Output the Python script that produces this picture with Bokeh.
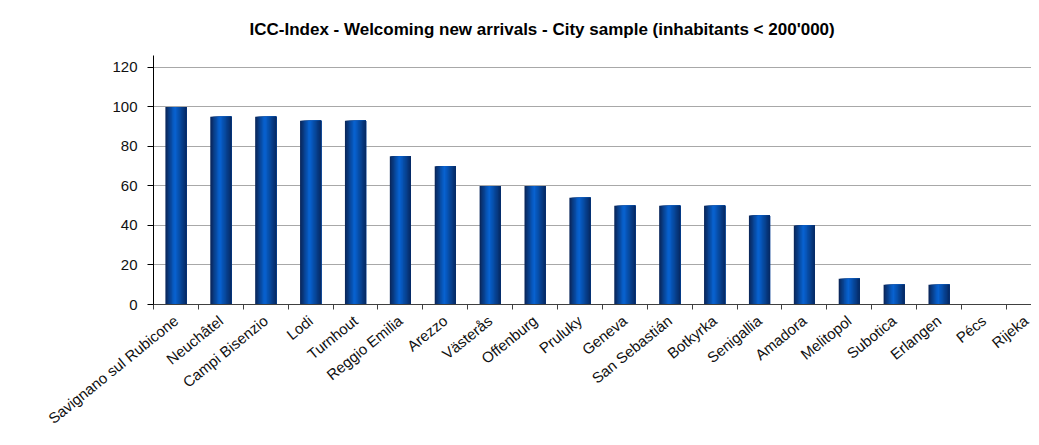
import math
from bokeh.plotting import figure
from bokeh.models import Range1d, FixedTicker, CustomJSTickFormatter
from bokeh.embed import file_html
from bokeh.resources import INLINE

# ---- data ----
cities = ["Savignano sul Rubicone", "Neuchâtel", "Campi Bisenzio", "Lodi", "Turnhout",
          "Reggio Emilia", "Arezzo", "Västerås", "Offenburg", "Pruluky", "Geneva",
          "San Sebastián", "Botkyrka", "Senigallia", "Amadora", "Melitopol", "Subotica",
          "Erlangen", "Pécs", "Rijeka"]
scores = [100, 95, 95, 93, 93, 75, 70, 60, 60, 54, 50, 50, 50, 45, 40, 13, 10, 10, 0, 0]
y_ticks = [0, 20, 40, 60, 80, 100, 120]
title_text = "ICC-Index - Welcoming new arrivals - City sample (inhabitants < 200'000)"

FONT = "Liberation Sans"

p = figure(width=1031, height=437, output_backend="svg", toolbar_location=None,
           x_range=Range1d(0, 19.56), y_range=Range1d(0, 126),
           min_border_left=153, min_border_right=0, min_border_top=55, min_border_bottom=133)

p.title.text = title_text
p.title.text_font = FONT
p.title.text_font_size = "17px"
p.title.text_font_style = "bold"
p.title.text_color = "#000000"
p.title.align = "left"
p.title.offset = 96
p.title.standoff = 33

p.outline_line_color = None
p.background_fill_color = "white"
p.border_fill_color = "white"

# bars with a horizontal gradient: overlapping strips, each covering the rest of the bar
n = 16
bw = 0.47
stops = [(0.0, (10, 36, 84)), (0.45, (8, 100, 212)), (1.0, (6, 40, 96))]

def interp(t):
    for (t0, c0), (t1, c1) in zip(stops[:-1], stops[1:]):
        if t0 <= t <= t1:
            f = (t - t0) / (t1 - t0)
            return "#%02x%02x%02x" % tuple(int(round(a + (b - a) * f)) for a, b in zip(c0, c1))
    return "#%02x%02x%02x" % stops[-1][1]

centers = [i + 0.5 for i in range(len(cities))]
for k in range(n):
    left_off = -bw / 2 + k * bw / n
    right_off = bw / 2
    p.quad(left=[c + left_off for c in centers], right=[c + right_off for c in centers],
           top=scores, bottom=0, fill_color=interp((k + 0.5) / n), line_color=None)

# grid
p.xgrid.visible = False
p.ygrid.grid_line_color = "#a8a8a8"
p.ygrid.grid_line_width = 1

# y axis
p.yaxis.ticker = FixedTicker(ticks=y_ticks)
p.yaxis.axis_line_color = "black"
p.yaxis.major_tick_line_color = "black"
p.yaxis.major_tick_out = 6
p.yaxis.major_tick_in = 0
p.yaxis.minor_tick_line_color = None
p.yaxis.major_label_text_font = FONT
p.yaxis.major_label_text_font_size = "15px"
p.yaxis.major_label_text_color = "#111111"
p.yaxis.major_label_standoff = 10

# x axis
p.xaxis.ticker = FixedTicker(ticks=centers, minor_ticks=list(range(len(cities) + 1)))
p.xaxis.formatter = CustomJSTickFormatter(args=dict(names=cities),
                                          code="var i = Math.round(tick - 0.5); return names[i] || '';")
p.xaxis.axis_line_color = "#404040"
p.xaxis.major_tick_line_color = None
p.xaxis.major_tick_out = 0
p.xaxis.major_tick_in = 0
p.xaxis.minor_tick_line_color = "#404040"
p.xaxis.minor_tick_out = 5
p.xaxis.minor_tick_in = 0
p.xaxis.major_label_orientation = math.radians(39)
p.xaxis.major_label_text_font = FONT
p.xaxis.major_label_text_font_size = "15px"
p.xaxis.major_label_text_color = "#111111"
p.xaxis.major_label_standoff = 9

open("out.html", "w").write(file_html(p, INLINE))
